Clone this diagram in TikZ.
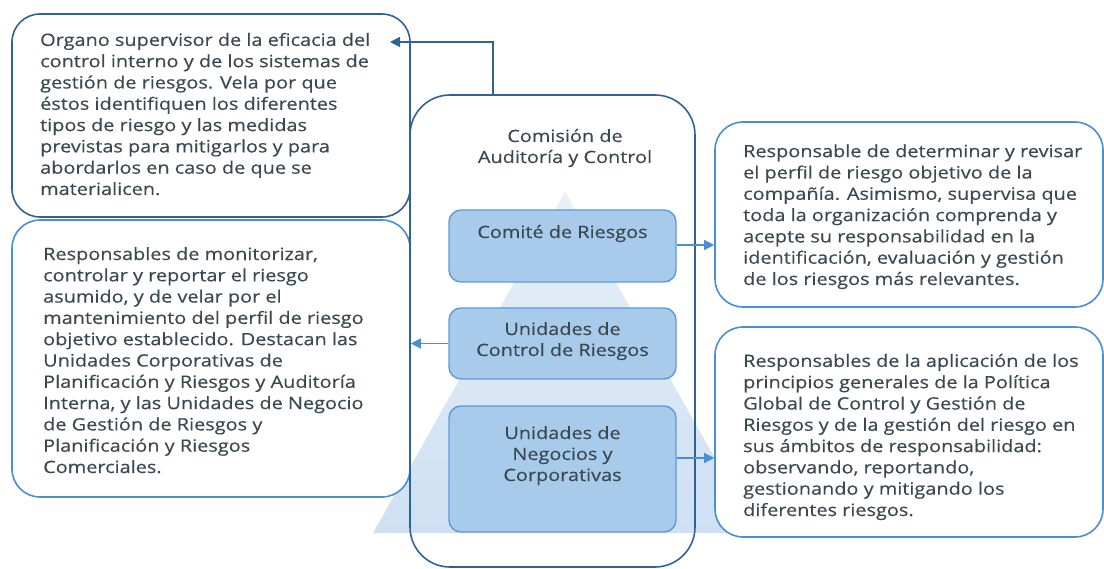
\documentclass[tikz,border=0pt]{standalone}
\usepackage{fontspec}
\setmainfont[FakeStretch=1.17,FakeBold=0.35]{Open Sans}
\usetikzlibrary{arrows.meta}
\definecolor{darkb}{HTML}{2F6296}
\definecolor{lightb}{HTML}{4A8FD4}
\definecolor{innerfill}{HTML}{A9CBEB}
\definecolor{innerdraw}{HTML}{5D9BD8}
\definecolor{txt}{HTML}{3A4950}
\definecolor{pyrtop}{HTML}{E8F0F9}
\definecolor{pyrbot}{HTML}{CEE0F2}
\tikzset{
  box/.style={draw, line width=1.6pt, rounded corners=28pt, fill=white, inner sep=0pt},
  inner/.style={draw=innerdraw, line width=1.4pt, fill=innerfill, rounded corners=12pt, minimum width=227pt, inner sep=0pt},
  desc/.style={anchor=base west, align=left, inner sep=0pt, text=txt, font=\fontsize{17}{21.3}\selectfont},
  ctr/.style={anchor=base, align=center, inner sep=0pt, text=txt, font=\fontsize{17}{21}\selectfont},
  arr/.style={line width=1.3pt, -{Triangle[length=10pt,width=10pt]}},
}
\begin{document}
\begin{tikzpicture}[x=1pt,y=-1pt]
\useasboundingbox (0,0) rectangle (1104,569);
% pyramid
\shade[top color=pyrtop, bottom color=pyrbot] (565,192) -- (757,533) -- (373,533) -- cycle;
% side boxes
\node[box, draw=darkb, minimum width=398pt, minimum height=203pt] (b1) at (211,115.5) {};
\node[box, draw=lightb, minimum width=398pt, minimum height=277pt] (b2) at (211,358.5) {};
\node[box, draw=lightb, minimum width=388pt, minimum height=185pt] (b3) at (909,214.5) {};
\node[box, draw=lightb, minimum width=388pt, minimum height=210pt] (b4) at (909,432) {};
% centre box
\node[draw=darkb, line width=1.6pt, rounded corners=40pt, minimum width=285pt, minimum height=472pt, inner sep=0pt] (cac) at (552.5,331) {};
\node[ctr] (cact) at (565,163) {Comisión de\\Auditoría y Control};
% inner boxes
\node[inner, minimum height=72pt] (cr) at (562.5,246) {};
\node[ctr] (crt) at (562.5,238) {Comité de Riesgos};
\node[inner, minimum height=71pt] (ucr) at (562.5,343.5) {};
\node[ctr] (ucrt) at (562.5,356) {Unidades de\\Control de Riesgos};
\node[inner, minimum height=126pt] (unc) at (562.5,469) {};
\node[ctr] (unct) at (562.5,481) {Unidades de\\Negocios y\\Corporativas};
% texts (anchored at the baseline of the last line)
\node[desc] (t1) at (40,195) {Organo supervisor de la eficacia del\\control interno y de los sistemas de\\gestión de riesgos. Vela por que\\éstos identifiquen los diferentes\\tipos de riesgo y las medidas\\previstas para mitigarlos y para\\abordarlos en caso de que se\\materialicen.};
\node[desc] (t2) at (43,473) {Responsables de monitorizar,\\controlar y reportar el riesgo\\asumido, y de velar por el\\mantenimiento del perfil de riesgo\\objetivo establecido. Destacan las\\Unidades Corporativas de\\Planificación y Riesgos y Auditoría\\Interna, y las Unidades de Negocio\\de Gestión de Riesgos y\\Planificación y Riesgos\\Comerciales.};
\node[desc] (t3) at (743,285) {Responsable de determinar y revisar\\el perfil de riesgo objetivo de la\\compañía. Asimismo, supervisa que\\toda la organización comprenda y\\acepte su responsabilidad en la\\identificación, evaluación y gestión\\de los riesgos más relevantes.};
\node[desc] (t4) at (743,516) {Responsables de la aplicación de los\\principios generales de la Política\\Global de Control y Gestión de\\Riesgos y de la gestión del riesgo en\\sus ámbitos de responsabilidad:\\observando, reportando,\\gestionando y mitigando los\\diferentes riesgos.};
% connectors
\coordinate (up) at (493,95);
\coordinate (tip) at (390,42);
\draw[arr, darkb] (up) -- (493,42) -- (tip);
\draw[arr, lightb] (cr.east |- 0,245) -- (b3.west |- 0,245);
\draw[arr, lightb] (ucr.west) -- (b2.east |- ucr.west);
\draw[arr, lightb] (unc.east |- 0,458) -- (b4.west |- 0,458);
\end{tikzpicture}
\end{document}
